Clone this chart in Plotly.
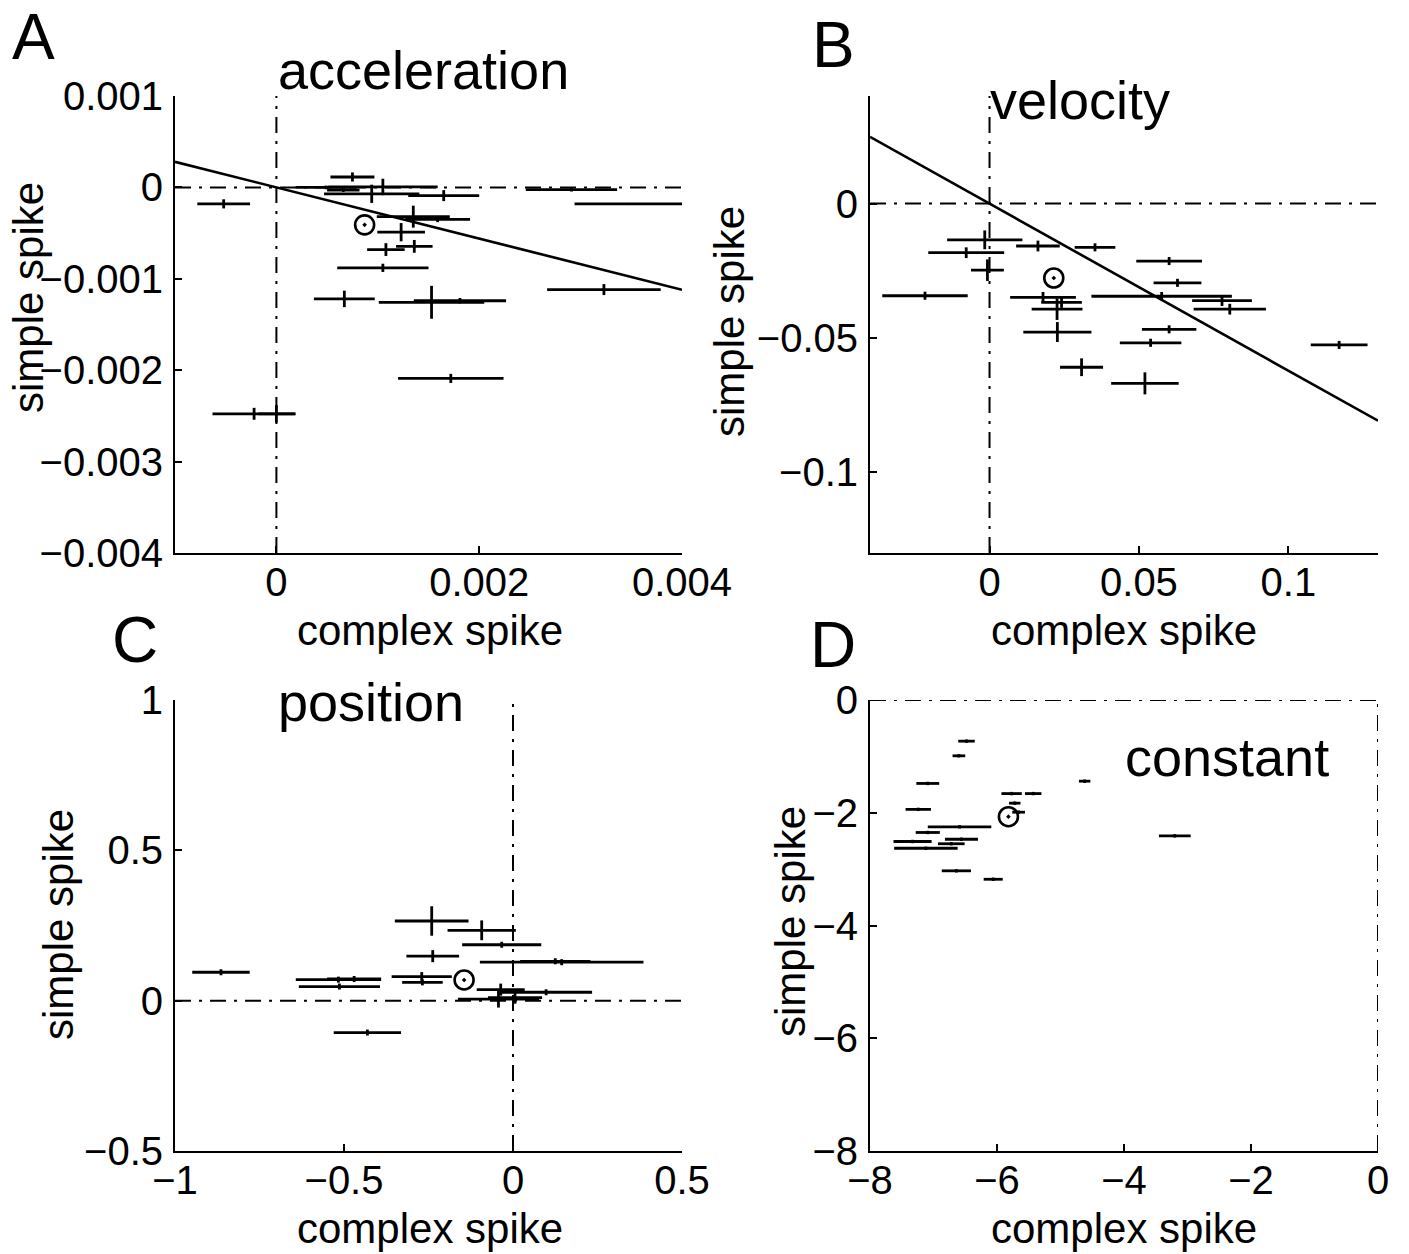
import plotly.graph_objects as go

# ---------------- data ----------------
# Panel A: acceleration
acc_x = [0.75e-3, 0.49e-3, 1.05e-3, 0.94e-3, 1.65e-3, 2.91e-3, 0.66e-3, -0.52e-3, 3.47e-3, 1.35e-3, 1.59e-3,
         1.23e-3, 1.36e-3, 1.08e-3, 1.05e-3, 0.67e-3, 1.53e-3, 1.81e-3, 3.23e-3, 1.72e-3, -0.22e-3, 0.0]
acc_y = [0.114e-3, 0.0, 0.005e-3, -0.07e-3, -0.09e-3, -0.025e-3, -0.03e-3, -0.18e-3, -0.18e-3, -0.32e-3, -0.35e-3,
         -0.49e-3, -0.645e-3, -0.68e-3, -0.88e-3, -1.22e-3, -1.257e-3, -1.24e-3, -1.118e-3, -2.09e-3, -2.477e-3, -2.477e-3]
acc_xerr = [0.217e-3, 0.3e-3, 0.54e-3, 0.47e-3, 0.35e-3, 0.45e-3, 0.16e-3, 0.26e-3, 0.53e-3, 0.36e-3, 0.32e-3,
            0.235e-3, 0.18e-3, 0.185e-3, 0.45e-3, 0.3e-3, 0.52e-3, 0.455e-3, 0.56e-3, 0.52e-3, 0.41e-3, 0.18e-3]
acc_yerr = [0.05e-3, 0.02e-3, 0.09e-3, 0.1e-3, 0.06e-3, 0.02e-3, 0.02e-3, 0.05e-3, 0.01e-3, 0.12e-3, 0.03e-3,
            0.1e-3, 0.07e-3, 0.07e-3, 0.045e-3, 0.09e-3, 0.18e-3, 0.03e-3, 0.06e-3, 0.05e-3, 0.065e-3, 0.095e-3]
acc_hl = ([0.87e-3], [-0.41e-3])
acc_fit_x = [-0.001, 0.004]
acc_fit_y = [0.00028, -0.00112]

# Panel B: velocity
vel_x = [-0.0016, -0.0078, -0.0007, 0.0162, 0.0353, -0.0216, 0.0179, 0.0241, 0.0226, 0.0227, 0.0308,
         0.052, 0.0576, 0.0601, 0.0629, 0.0778, 0.0804, 0.0601, 0.0539, 0.117]
vel_y = [-0.0135, -0.0183, -0.0248, -0.0158, -0.0163, -0.0343, -0.0349, -0.0368, -0.0393, -0.0478, -0.0609,
         -0.0669, -0.0345, -0.0214, -0.0295, -0.0361, -0.0393, -0.0468, -0.0518, -0.0526]
vel_xerr = [0.0126, 0.0127, 0.0055, 0.0073, 0.0068, 0.0143, 0.011, 0.0068, 0.0085, 0.0114, 0.0072,
            0.0113, 0.0235, 0.011, 0.008, 0.01, 0.0121, 0.0091, 0.0103, 0.0095]
vel_yerr = [0.0035, 0.002, 0.004, 0.002, 0.0015, 0.0015, 0.002, 0.002, 0.004, 0.0037, 0.0033,
            0.0041, 0.0016, 0.0015, 0.0015, 0.002, 0.002, 0.0015, 0.0015, 0.0015]
vel_hl = ([0.0215], [-0.0277])
vel_fit_x = [-0.04, 0.13]
vel_fit_y = [0.0248, -0.0808]

# Panel C: position
pos_x = [-0.2405, -0.0926, -0.0334, -0.2375, 0.144, 0.125, -0.864, -0.5166, -0.5136, -0.47, -0.27,
         -0.268, -0.0364, 0.098, -0.043, 0.006, -0.4308]
pos_y = [0.265, 0.234, 0.186, 0.148, 0.128, 0.131, 0.0945, 0.070, 0.047, 0.072, 0.080,
         0.061, 0.0367, 0.028, 0.005, 0.01, -0.106]
pos_xerr = [0.109, 0.101, 0.117, 0.078, 0.242, 0.104, 0.085, 0.126, 0.12, 0.08, 0.089,
            0.06, 0.071, 0.136, 0.12, 0.08, 0.0996]
pos_yerr = [0.049, 0.033, 0.01, 0.02, 0.01, 0.01, 0.01, 0.01, 0.01, 0.01, 0.015,
            0.01, 0.02, 0.01, 0.028, 0.02, 0.01]
pos_hl = ([-0.1447], [0.0688])

# Panel D: constant
con_x = [-6.48, -6.6, -7.09, -4.62, -5.77, -5.43, -5.72, -7.24, -5.66, -6.59, -7.09, -7.33,
         -6.56, -6.72, -7.12, -6.64, -6.06, -3.2]
con_y = [-0.73, -0.99, -1.48, -1.44, -1.66, -1.66, -1.83, -1.94, -1.99, -2.25, -2.35, -2.51,
         -2.47, -2.55, -2.63, -3.03, -3.18, -2.41]
con_xerr = [0.13, 0.1, 0.18, 0.09, 0.16, 0.13, 0.09, 0.2, 0.1, 0.5, 0.19, 0.3,
            0.26, 0.21, 0.5, 0.23, 0.15, 0.25]
con_yerr = [0.03] * 18
con_hl = ([-5.82], [-2.07])

# tick labels
acc_xticks = [0, 0.002, 0.004]
acc_xtext = ["0", "0.002", "0.004"]
acc_yticks = [0.001, 0, -0.001, -0.002, -0.003, -0.004]
acc_ytext = ["0.001", "0", "\u22120.001", "\u22120.002", "\u22120.003", "\u22120.004"]
vel_xticks = [0, 0.05, 0.1]
vel_xtext = ["0", "0.05", "0.1"]
vel_yticks = [0, -0.05, -0.1]
vel_ytext = ["0", "\u22120.05", "\u22120.1"]
pos_xticks = [-1, -0.5, 0, 0.5]
pos_xtext = ["\u22121", "\u22120.5", "0", "0.5"]
pos_yticks = [1, 0.5, 0, -0.5]
pos_ytext = ["1", "0.5", "0", "\u22120.5"]
con_xticks = [-8, -6, -4, -2, 0]
con_xtext = ["\u22128", "\u22126", "\u22124", "\u22122", "0"]
con_yticks = [0, -2, -4, -6, -8]
con_ytext = ["0", "\u22122", "\u22124", "\u22126", "\u22128"]

# ---------------- figure ----------------
W, H = 1409, 1254
FONT = "Liberation Sans, Arial, Helvetica, sans-serif"

fig = go.Figure()

panels = [
    ("x", "y", acc_x, acc_y, acc_xerr, acc_yerr, acc_hl, (acc_fit_x, acc_fit_y)),
    ("x2", "y2", vel_x, vel_y, vel_xerr, vel_yerr, vel_hl, (vel_fit_x, vel_fit_y)),
    ("x3", "y3", pos_x, pos_y, pos_xerr, pos_yerr, pos_hl, None),
    ("x4", "y4", con_x, con_y, con_xerr, con_yerr, con_hl, None),
]

for xa, ya, xs, ys, xe, ye, hl, fit in panels:
    fig.add_trace(go.Scatter(
        x=xs, y=ys, xaxis=xa, yaxis=ya, mode="markers",
        marker=dict(size=1, color="black"),
        error_x=dict(type="data", array=xe, visible=True, color="black", thickness=2.8, width=0),
        error_y=dict(type="data", array=ye, visible=True, color="black", thickness=2.8, width=0),
        showlegend=False, hoverinfo="skip"))
    if fit is not None:
        fig.add_trace(go.Scatter(
            x=fit[0], y=fit[1], xaxis=xa, yaxis=ya, mode="lines",
            line=dict(color="black", width=2.6), showlegend=False, hoverinfo="skip"))
    fig.add_trace(go.Scatter(
        x=hl[0], y=hl[1], xaxis=xa, yaxis=ya, mode="markers",
        marker=dict(symbol="circle-open-dot", size=19, color="black", line=dict(width=2.6, color="black")),
        showlegend=False, hoverinfo="skip"))


def px2fx(p):
    return p / W


def px2fy(p):
    return 1 - p / H


def axis(domain, rng, tickvals, ticktext, anchor, standoff):
    return dict(domain=domain, range=rng, anchor=anchor, tickmode="array", tickvals=tickvals,
                ticktext=ticktext, ticks="inside", ticklen=7, tickwidth=1.5, tickcolor="black",
                showline=True, linewidth=2, linecolor="black", mirror=False, showgrid=False,
                zeroline=False, automargin=False,
                tickfont=dict(family=FONT, size=40, color="black"),
                ticklabelstandoff=standoff)


xdomA = [px2fx(175), px2fx(682)]
xdomB = [px2fx(870), px2fx(1378)]
ydomTop = [px2fy(553), px2fy(96)]
ydomBot = [px2fy(1151), px2fy(700)]

fig.update_layout(
    template="none",
    width=W, height=H, margin=dict(l=0, r=0, t=0, b=0, pad=0), autosize=False,
    paper_bgcolor="white", plot_bgcolor="white",
    font=dict(family=FONT, color="black"),
    xaxis=axis(xdomA, [-0.001, 0.004], acc_xticks, acc_xtext, "y", -7),
    yaxis=axis(ydomTop, [-0.004, 0.001], acc_yticks, acc_ytext, "x", 2),
    xaxis2=axis(xdomB, [-0.04, 0.13], vel_xticks, vel_xtext, "y2", -7),
    yaxis2=axis(ydomTop, [-0.13, 0.04], vel_yticks, vel_ytext, "x2", 2),
    xaxis3=axis(xdomA, [-1, 0.5], pos_xticks, pos_xtext, "y3", -7),
    yaxis3=axis(ydomBot, [-0.5, 1], pos_yticks, pos_ytext, "x3", 2),
    xaxis4=axis(xdomB, [-8, 0], con_xticks, con_xtext, "y4", -7),
    yaxis4=axis(ydomBot, [-8, 0], con_yticks, con_ytext, "x4", 2),
)

# dash-dot zero lines
DASH = "16px,8px,3px,8px"
for xa, ya in [("x", "y"), ("x2", "y2"), ("x3", "y3"), ("x4", "y4")]:
    fig.add_shape(type="line", xref=xa, yref=ya + " domain", x0=0, x1=0, y0=0, y1=1,
                  line=dict(color="black", width=2, dash=DASH), layer="below")
    fig.add_shape(type="line", xref=xa + " domain", yref=ya, x0=0, x1=1, y0=0, y1=0,
                  line=dict(color="black", width=2, dash=DASH), layer="below")


def ann(text, x, y, size, xanchor="left", angle=0):
    fig.add_annotation(text=text, x=px2fx(x), y=px2fy(y), xref="paper", yref="paper",
                       xanchor=xanchor, yanchor="middle", showarrow=False, textangle=angle,
                       font=dict(family=FONT, size=size, color="black"))


# panel letters
ann("A", 10, 37, 64)
ann("B", 810, 45, 64)
ann("C", 110, 640, 64)
ann("D", 808, 645, 64)

# panel titles
ann("acceleration", 276, 70, 54)
ann("velocity", 988, 100, 54)
ann("position", 276, 702, 54)
ann("constant", 1123, 757, 54)

# axis titles
for cx, cy in [(430, 630), (1124, 630), (430, 1228), (1124, 1228)]:
    ann("complex spike", cx, cy, 42, xanchor="center")
for cx, cy in [(28, 298), (730, 322), (58, 925), (790, 922)]:
    ann("simple spike", cx, cy, 42, xanchor="center", angle=-90)

fig.write_html("out.html")
